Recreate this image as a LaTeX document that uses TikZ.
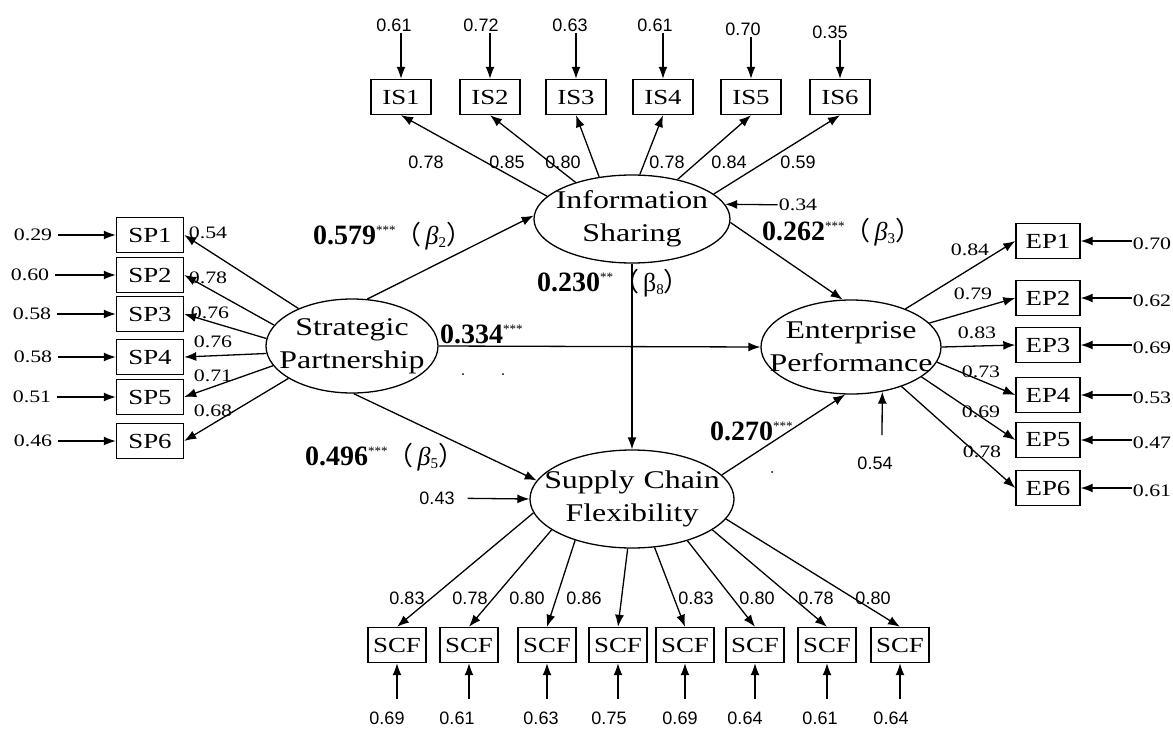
\documentclass[tikz,border=0pt]{standalone}
\usepackage{fontspec}
\setmainfont{Liberation Serif}
\newfontfamily\wideserif[FakeStretch=1.25]{Liberation Serif}
\newfontfamily\numsans{Liberation Sans}
\newfontfamily\cjk{Noto Sans CJK SC}
\usetikzlibrary{arrows.meta, positioning, shapes.geometric}

\newcommand{\sig}[1]{\raisebox{10pt}{\mdseries\fontsize{13}{13}\selectfont #1}}
\newcommand{\sbs}[1]{\raisebox{-3pt}{\fontsize{15}{15}\selectfont #1}}
\newcommand{\bpar}[1]{{\mdseries\fontsize{26}{26}\selectfont\cjk （}\hspace{4pt}{\mdseries\fontsize{26}{26}\selectfont #1}{\mdseries\fontsize{26}{26}\selectfont\cjk ）}}

\begin{document}
\begin{tikzpicture}[x=1pt, y=-1pt,
    every node/.style={inner sep=1pt},
    ind/.style={draw, line width=1.4pt, minimum width=60pt, minimum height=35pt, inner sep=0pt,
                font=\wideserif\fontsize{21.5}{21.5}\selectfont},
    lat/.style={draw, ellipse, line width=1.3pt, inner sep=-20pt, align=center,
                font=\wideserif\fontsize{25.5}{33}\selectfont},
    arr/.style={line width=1.3pt, -{Latex[length=12pt,width=9pt]}},
    num/.style={font=\numsans\fontsize{18}{18}\selectfont},
    snum/.style={font=\wideserif\fontsize{17.5}{17.5}\selectfont},
    coef/.style={anchor=base west, inner sep=0pt, font=\fontsize{28}{28}\selectfont\bfseries}]
  \useasboundingbox (0,0) rectangle (1173,734);

  % latent variables
  \node[lat, minimum width=196pt, minimum height=88pt] (is) at (632,219) {Information\\Sharing};
  \node[lat, minimum width=172pt, minimum height=94pt] (sp) at (352,346) {Strategic\\Partnership};
  \node[lat, minimum width=180pt, minimum height=94pt] (ep) at (851,347) {Enterprise\\Performance};
  \node[lat, minimum width=204pt, minimum height=98pt] (scf) at (632,499) {Supply\hspace{9pt}Chain\\Flexibility};

  % information sharing items
  \foreach \i/\x/\ex/\ey/\ev/\ang/\lx/\lv in {
      1/401/394/25/0.61/165/426/0.78, 2/490/481/25/0.72/147/507/0.85,
      3/576/570/25/0.63/128/563/0.80, 4/663/655/25/0.61/80/667/0.78,
      5/751/743/29/0.70/41/729/0.84, 6/840/830/32/0.35/17/798/0.59}{
    \node[ind] (is\i) at (\x,97) {IS\i};
    \node[num] (ise\i) at (\ex,\ey) {\ev};
    \draw[arr] (is\i.north |- ise\i.south) -- (is\i.north);
    \draw[arr] (is.\ang) -- (is\i.south);
    \node[num] (isl\i) at (\lx,162) {\lv};
  }

  % strategic partnership items
  \foreach \i/\y/\ex/\ev/\ang/\lx/\ly/\lv in {
      1/235/33/0.29/145/208/233/0.54, 2/275/30/0.60/165/208/278/0.78,
      3/314/32/0.58/175/210/313/0.76, 4/357/33/0.58/185/213/342/0.76,
      5/397/32/0.51/194/213/376/0.71, 6/441/33/0.46/207/213/411/0.68}{
    \node[ind, minimum width=67pt] (sp\i) at (150,\y) {SP\i};
    \node[snum] (spe\i) at (\ex,\y) {\ev};
    \draw[arr, shorten <=5pt] (spe\i) -- (sp\i);
    \draw[arr] (sp.\ang) -- (sp\i.east);
    \node[snum] (spl\i) at (\lx,\ly) {\lv};
  }

  % enterprise performance items
  \foreach \i/\y/\ev/\ang/\lx/\ly/\lv in {
      1/241/0.70/35/970/250/0.84, 2/298/0.62/17/973/294/0.79,
      3/345/0.69/0/977/333/0.83, 4/395/0.53/350/981/372/0.73,
      5/440/0.47/337/981/412/0.69, 6/488/0.61/322/982/452/0.78}{
    \node[ind, minimum width=64pt] (ep\i) at (1048,\y) {EP\i};
    \node[snum] (epe\i) at (1152,\y+3) {\ev};
    \draw[arr] (epe\i.west |- ep\i.east) -- (ep\i.east);
    \draw[arr] (ep.\ang) -- (ep\i.west);
    \node[snum] (epl\i) at (\lx,\ly) {\lv};
  }

  % supply chain flexibility items
  \foreach \i/\x/\ang/\ex/\ev/\lx/\lv in {
      1/397/188/387/0.69/407/0.83, 2/469/201/457/0.61/470/0.78,
      3/547/216/541/0.63/527/0.80, 4/618/265/609/0.75/584/0.86,
      5/685/295/680/0.69/696/0.83, 6/755/323/745/0.64/757/0.80,
      7/827/339/820/0.61/816/0.78, 8/900/348/891/0.64/873/0.80}{
    \node[ind, minimum width=58pt] (scf\i) at (\x,645) {SCF};
    \node[num] (scfe\i) at (\ex,718) {\ev};
    \draw[arr, shorten <=11pt] (scf\i.south |- scfe\i.north) -- (scf\i.south);
    \draw[arr] (scf.\ang) -- (scf\i.north);
    \node[num] (scfl\i) at (\lx,598) {\lv};
  }

  % structural paths
  \draw[arr] (sp.72) -- (is.178);
  \draw[arr] (is.-2) -- (ep.100);
  \draw[arr] (is.south) -- (scf.north);
  \draw[arr] (sp.east) -- (ep.west);
  \draw[arr] (sp.-88) -- (scf.169);
  \draw[arr] (scf.15) -- (ep.-97);

  \node[coef] (c1) at (313,244) {0.579\sig{***}\bpar{\textit{β}\sbs{2}}};
  \node[coef] (c2) at (762,240) {0.262\sig{***}\bpar{\textit{β}\sbs{3}}};
  \node[coef] (c3) at (537,291) {0.230\sig{**}\bpar{β\sbs{8}}};
  \node[coef] (c4) at (440,343) {0.334\sig{***}};
  \node[coef] (c5) at (305,465) {0.496\sig{***}\bpar{\textit{β}\sbs{5}}};
  \node[coef] (c6) at (710,440) {0.270\sig{***}};

  % disturbances
  \node[snum] (isr) at (798,205) {0.34};
  \draw[arr] (isr) -- (is.9);
  \node[num] (scfr) at (437,498) {0.43};
  \draw[arr, shorten <=12pt] (scfr) -- (scf.west);
  \node[num] (epr) at (875,463) {0.54};
  \coordinate (eprs) at (882,435);
  \draw[arr] (eprs) -- (ep.-55);

  \fill (463,374) circle (1pt);
  \fill (503,374) circle (1pt);
  \fill (772,472) circle (1pt);
\end{tikzpicture}
\end{document}
